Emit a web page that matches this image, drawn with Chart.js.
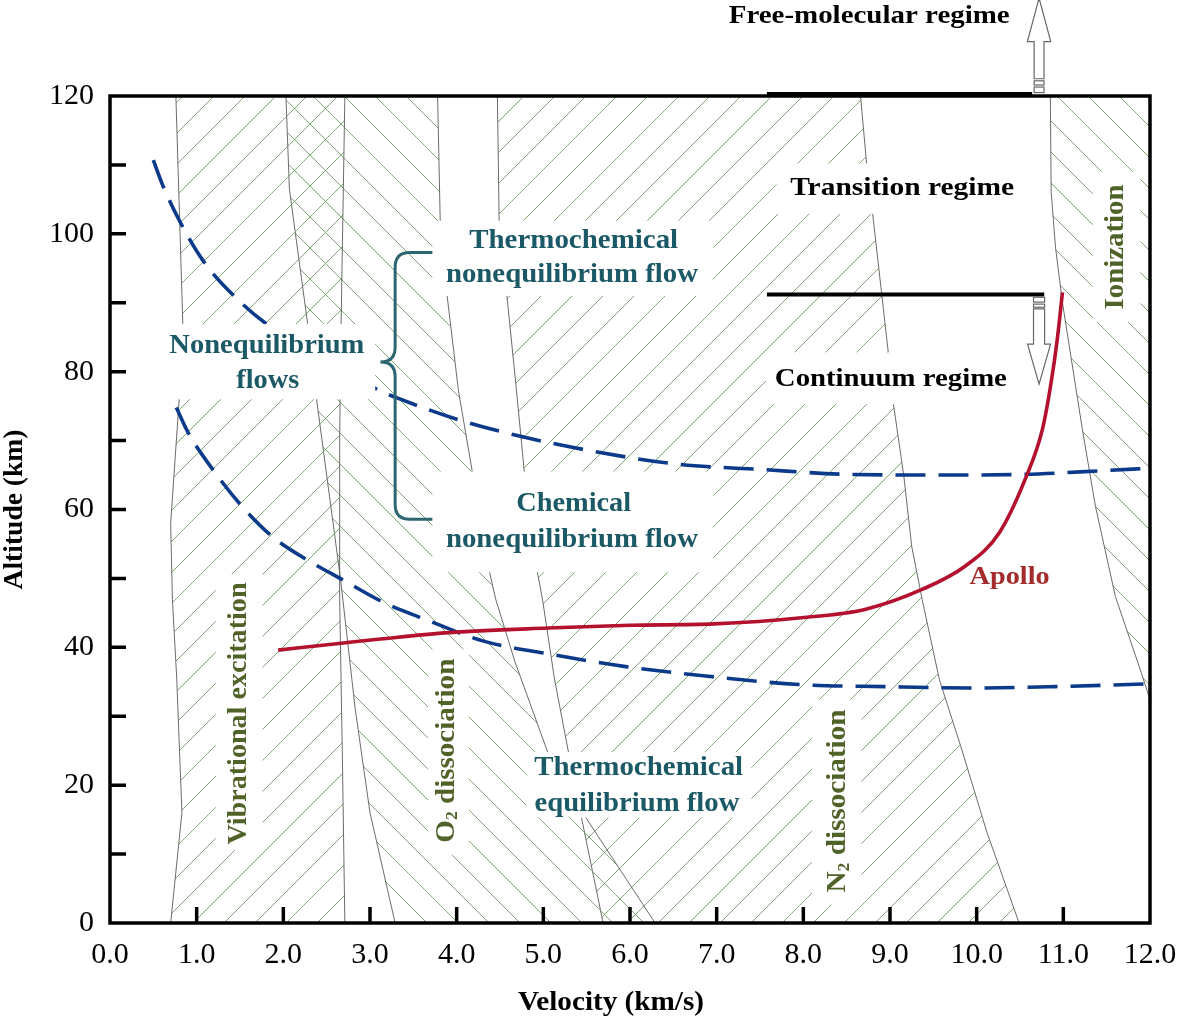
<!DOCTYPE html>
<html><head><meta charset="utf-8">
<script src="https://cdn.jsdelivr.net/npm/chart.js@4/dist/chart.umd.min.js"></script>
<style>html,body{margin:0;padding:0;background:#fff}#wrap{width:1180px;height:1021px}</style>
</head><body><div id="wrap"><canvas id="c" width="1180" height="1021"></canvas></div>
<script>
// ---------- DATA ----------
const velocityTicks = [0,1,2,3,4,5,6,7,8,9,10,11,12];
const velocityTickLabels = ['0.0','1.0','2.0','3.0','4.0','5.0','6.0','7.0','8.0','9.0','10.0','11.0','12.0'];
const altitudeTicks = [0,10,20,30,40,50,60,70,80,90,100,110,120];
const altitudeTickLabels = ['0','','20','','40','','60','','80','','100','','120'];

// region boundaries [velocity km/s, altitude km], top to bottom
const vibLeft  = [[0.76,120],[0.84,87],[0.80,76.3],[0.70,58],[0.72,47],[0.77,35.5],[0.83,16],[0.70,0]];
const vibRight = [[2.71,120],[2.66,82],[2.65,70],[2.65,47],[2.68,25],[2.71,0]];
const o2Left   = [[2.03,120],[2.07,106.5],[2.28,87],[2.38,76.3],[2.66,49.9],[2.83,31],[3.00,16],[3.29,0]];
const o2Right  = [[3.78,120],[3.81,102],[3.89,91],[4.02,77.3],[4.18,65.5],[4.38,50.9],[4.45,47],[4.67,38],[5.05,24.8],[5.49,15.3],[6.29,0]];
const n2Left   = [[4.47,120],[4.49,102],[4.58,91],[4.69,77.3],[4.78,65.5],[4.93,51],[4.99,47],[5.13,35.3],[5.29,24.8],[5.44,15.3],[5.69,0]];
const n2Right  = [[8.66,120],[8.73,110.2],[8.80,102.9],[8.98,82.8],[9.04,75.3],[9.16,64.8],[9.25,54.7],[9.37,47],[9.57,35.3],[9.83,25.1],[10.12,13.1],[10.49,0]];
const ionLeft  = [[10.85,120],[10.86,106],[10.91,98],[10.99,90],[11.14,78],[11.22,71.6],[11.37,60.5],[11.60,47.4],[11.90,36.3],[12.0,32.4]];

// nonequilibrium boundaries (dashed)
const thermoNoneqBoundary = [[0.50,110.7],[0.61,107],[0.81,101.7],[1.08,96],[1.43,91],[1.83,86.7],[3.12,77.2],[3.29,76.3],[4.05,72.9],[4.71,70.7],[5.51,68.6],[6.53,66.6],[7.52,65.8],[8.52,65.1],[9.52,65.0],[10.53,65.1],[11.41,65.6],[12.0,66.0]];
const chemNoneqBoundary = [[0.765,74.8],[0.90,71.2],[1.21,65.4],[1.52,60.5],[1.87,56.1],[2.30,52.5],[2.67,49.9],[3.16,46.5],[3.65,44.0],[4.31,40.9],[5.08,39.0],[5.95,37.2],[6.90,35.8],[7.95,34.6],[8.94,34.3],[9.91,34.1],[10.91,34.3],[12.0,34.7]];

// Apollo trajectory
const apollo = [[1.94,39.6],[2.67,40.6],[3.12,41.2],[3.87,42.1],[5.05,42.8],[6.00,43.2],[6.97,43.4],[7.98,44.3],[8.71,45.5],[9.37,48.4],[9.87,51.8],[10.26,56.6],[10.56,64.4],[10.76,71.7],[10.86,78.5],[10.93,84.7],[10.99,91.5]];

// regime separation lines [x0, x1, altitude]
const regimeLines = [[7.58,10.64,120.3],[7.58,10.78,91.2]];

// ---------- STYLE / LAYOUT ----------
const SERIF = "'Liberation Serif', 'Times New Roman', serif";
const teal = '#1b5967', olive = '#4f6228';
const hatchColor = 'rgba(100,155,90,0.85)';

function makeHatch(dir){
  const s = 31, c = document.createElement('canvas'); c.width = s; c.height = s;
  const g = c.getContext('2d'); g.strokeStyle = hatchColor; g.lineWidth = 1;
  g.beginPath();
  if (dir === '/') { g.moveTo(-2,s+2); g.lineTo(s+2,-2); g.moveTo(-2,2); g.lineTo(2,-2); g.moveTo(s-2,s+2); g.lineTo(s+2,s-2); }
  else { g.moveTo(-2,-2); g.lineTo(s+2,s+2); g.moveTo(-2,s-2); g.lineTo(2,s+2); g.moveTo(s-2,-2); g.lineTo(s+2,2); }
  g.stroke();
  return g.createPattern(c,'repeat');
}
const hatchFwd = makeHatch('/'), hatchBack = makeHatch('\\');
const pts = arr => arr.map(([x,y]) => ({x,y}));
const polygon = (left, right) => left.concat(right.slice().reverse());
const xMax = velocityTicks[velocityTicks.length-1], yMax = altitudeTicks[altitudeTicks.length-1];

const regionStyle = {type:'line', pointRadius:0, borderColor:'#5a5a5a', borderWidth:0.9, tension:0, fill:'shape', order:5};
const datasets = [
  {...regionStyle, label:'Vibrational excitation', data: pts(polygon(vibLeft, vibRight)), backgroundColor: hatchFwd},
  {...regionStyle, label:'O2 dissociation', data: pts(polygon(o2Left, o2Right)), backgroundColor: hatchBack},
  {...regionStyle, label:'N2 dissociation', data: pts(polygon(n2Left, n2Right)), backgroundColor: hatchFwd},
  {...regionStyle, label:'Ionization', data: pts(ionLeft.concat([[xMax,yMax]])), backgroundColor: hatchBack},
  {type:'line', label:'thermo', data: pts(thermoNoneqBoundary), borderColor:'#0b3a8a', borderWidth:3.6, borderDash:[30,13], fill:false, pointRadius:0, cubicInterpolationMode:'monotone', order:1},
  {type:'line', label:'chem', data: pts(chemNoneqBoundary), borderColor:'#0b3a8a', borderWidth:3.6, borderDash:[30,13], fill:false, pointRadius:0, cubicInterpolationMode:'monotone', order:1},
  {type:'line', label:'Apollo', data: pts(apollo), borderColor:'#b3112e', borderWidth:3.6, fill:false, pointRadius:0, cubicInterpolationMode:'monotone', order:0}
];

// white label backgrounds [x0,x1,y0,y1] in data units
const labelBoxes = [
  [0.46,3.06,76.0,86.9],[3.72,6.96,91.0,101.9],[3.72,6.96,50.9,65.5],[4.80,7.40,15.3,24.8],
  [7.69,10.47,102.9,110.2],[7.57,10.41,75.3,82.8],
  [1.22,1.76,10.6,50.6],[3.67,4.14,9.9,39.7],[8.10,8.67,2.6,32.4],[11.34,11.89,87.2,109]
];
const textLabels = [
  {t:'Free-molecular regime', x:8.76, y:131.5, size:25, w:281, color:'#000'},
  {t:'Transition regime', x:9.14, y:106.5, size:25, w:224, color:'#000'},
  {t:'Continuum regime', x:9.01, y:78.9, size:25, w:232, color:'#000'},
  {t:'Thermochemical', x:5.35, y:99.0, size:27, w:209, color:teal},
  {t:'nonequilibrium flow', x:5.33, y:94.0, size:27, w:252, color:teal},
  {t:'Chemical', x:5.35, y:60.75, size:27, w:115, color:teal},
  {t:'nonequilibrium flow', x:5.33, y:55.5, size:27, w:252, color:teal},
  {t:'Nonequilibrium', x:1.81, y:83.7, size:27, w:195, color:teal},
  {t:'flows', x:1.82, y:78.6, size:27, w:63, color:teal},
  {t:'Thermochemical', x:6.10, y:22.5, size:27, w:209, color:teal},
  {t:'equilibrium flow', x:6.08, y:17.2, size:27, w:205, color:teal},
  {t:'Apollo', x:10.38, y:50.1, size:26, w:80, color:'#a32b2b'},
  {parts:[['Vibrational excitation']], x:1.48, y:30.4, size:28, w:262, color:olive, rot:true},
  {parts:[['O'],['2',1],[' dissociation']], x:3.88, y:25.0, size:28, w:184, color:olive, rot:true},
  {parts:[['N'],['2',1],[' dissociation']], x:8.40, y:17.7, size:28, w:183, color:olive, rot:true},
  {parts:[['Ionization']], x:11.60, y:98.1, size:28, w:125, color:olive, rot:true},
  {t:'Velocity (km/s)', x:5.78, y:-11.6, size:27, w:186, color:'#000'},
  {parts:[['Altitude (km)']], x:-1.094, y:60.0, size:27, w:160, color:'#000', rot:true}
];
const brace = {xArm:3.72, xStem:3.29, xCusp:3.12, yTop:97.3, yMid:81.4, yBot:58.6};
const arrows = [
  {x:10.72, half:0.057, head:0.135, from:122.5, base:127.9, tip:134.2, segs:[[121.6,122.2],[120.5,121.3]]},
  {x:10.72, half:0.064, head:0.133, from:89.1, base:84.0, tip:78.2, segs:[[90.1,90.8],[89.35,89.8]]}
];

function drawText(ctx, L, X, Y){
  const parts = L.parts || [[L.t]];
  ctx.save();
  ctx.translate(X(L.x), Y(L.y));
  if (L.rot) ctx.rotate(-Math.PI/2);
  const big = `bold ${L.size}px ${SERIF}`, small = `bold ${Math.round(L.size*0.62)}px ${SERIF}`;
  let total = 0; const ws = [];
  for (const p of parts){ ctx.font = p[1] ? small : big; const w = ctx.measureText(p[0]).width; ws.push(w); total += w; }
  ctx.scale(L.w/total, 1);
  ctx.fillStyle = L.color; ctx.textAlign = 'left'; ctx.textBaseline = 'middle';
  let cx = -total/2;
  parts.forEach((p,i)=>{ ctx.font = p[1] ? small : big; ctx.fillText(p[0], cx, p[1] ? L.size*0.22 : 0); cx += ws[i]; });
  ctx.restore();
}

const overlay = {
  id:'overlay',
  afterDatasetsDraw(chart){
    const {ctx, chartArea:a, scales:{x, y}} = chart;
    const X = v => x.getPixelForValue(v), Y = v => y.getPixelForValue(v);
    ctx.save();
    ctx.fillStyle = '#fff';
    for (const b of labelBoxes) ctx.fillRect(X(b[0]), Y(b[3]), X(b[1])-X(b[0]), Y(b[2])-Y(b[3]));
    // frame
    ctx.strokeStyle = '#000'; ctx.lineWidth = 3.5;
    ctx.strokeRect(a.left, a.top, a.right-a.left, a.bottom-a.top);
    // inward tick marks
    ctx.lineWidth = 3.5;
    ctx.beginPath();
    for (const v of altitudeTicks){ if (v<=0 || v>=yMax) continue; ctx.moveTo(a.left, Y(v)); ctx.lineTo(a.left+16, Y(v)); }
    for (const v of velocityTicks){ if (v<=0 || v>=xMax) continue; ctx.moveTo(X(v), a.bottom); ctx.lineTo(X(v), a.bottom-16); }
    ctx.stroke();
    // regime lines
    for (const r of regimeLines){ ctx.lineWidth = 4; ctx.beginPath(); ctx.moveTo(X(r[0]), Y(r[2])); ctx.lineTo(X(r[1]), Y(r[2])); ctx.stroke(); }
    // brace
    const xa=X(brace.xArm), xs=X(brace.xStem), xc=X(brace.xCusp), yt=Y(brace.yTop), ym=Y(brace.yMid), yb=Y(brace.yBot);
    const r = xs - xc;
    ctx.strokeStyle = '#2c6670'; ctx.lineWidth = 3;
    ctx.beginPath();
    ctx.moveTo(xa, yt); ctx.lineTo(xs+r, yt); ctx.quadraticCurveTo(xs, yt, xs, yt+r);
    ctx.lineTo(xs, ym-r); ctx.quadraticCurveTo(xs, ym, xc, ym); ctx.quadraticCurveTo(xs, ym, xs, ym+r);
    ctx.lineTo(xs, yb-r); ctx.quadraticCurveTo(xs, yb, xs+r, yb); ctx.lineTo(xa, yb);
    ctx.stroke();
    // arrows
    ctx.strokeStyle = '#666'; ctx.lineWidth = 1.2; ctx.fillStyle = '#fff';
    for (const ar of arrows){
      const cx = X(ar.x), sh = X(ar.x+ar.half)-cx, hh = X(ar.x+ar.head)-cx;
      ctx.beginPath();
      ctx.moveTo(cx-sh, Y(ar.from)); ctx.lineTo(cx-sh, Y(ar.base)); ctx.lineTo(cx-hh, Y(ar.base)); ctx.lineTo(cx, Y(ar.tip));
      ctx.lineTo(cx+hh, Y(ar.base)); ctx.lineTo(cx+sh, Y(ar.base)); ctx.lineTo(cx+sh, Y(ar.from)); ctx.closePath();
      ctx.fill(); ctx.stroke();
      for (const s of ar.segs){ ctx.fillRect(cx-sh, Y(s[1]), 2*sh, Y(s[0])-Y(s[1])); ctx.strokeRect(cx-sh, Y(s[1]), 2*sh, Y(s[0])-Y(s[1])); }
    }
    // labels
    for (const L of textLabels) drawText(ctx, L, X, Y);
    ctx.restore();
  }
};

new Chart(document.getElementById('c'), {
  type:'line',
  data:{datasets},
  options:{
    responsive:false, animation:false, devicePixelRatio:1,
    layout:{padding:{top:96, right:30, left:0, bottom:0}},
    plugins:{legend:{display:false}, tooltip:{enabled:false}},
    scales:{
      x:{type:'linear', min:0, max:12,
         afterFit(s){ s.height = 98; s.paddingLeft = 0; s.paddingRight = 0; },
         ticks:{stepSize:1, autoSkip:false, maxRotation:0, padding:14, color:'#000', font:{family:SERIF, size:30},
                callback:(v)=>{ const i = velocityTicks.indexOf(v); return i>=0 ? velocityTickLabels[i] : ''; }},
         grid:{display:false, drawTicks:false}, border:{display:false}},
      y:{type:'linear', min:0, max:120,
         afterFit(s){ s.width = 110; s.paddingTop = 0; s.paddingBottom = 0; },
         ticks:{stepSize:10, autoSkip:false, padding:16, color:'#000', font:{family:SERIF, size:30},
                callback:(v)=>{ const i = altitudeTicks.indexOf(v); return i>=0 ? altitudeTickLabels[i] : ''; }},
         grid:{display:false, drawTicks:false}, border:{display:false}}
    }
  },
  plugins:[overlay]
});
</script></body></html>
